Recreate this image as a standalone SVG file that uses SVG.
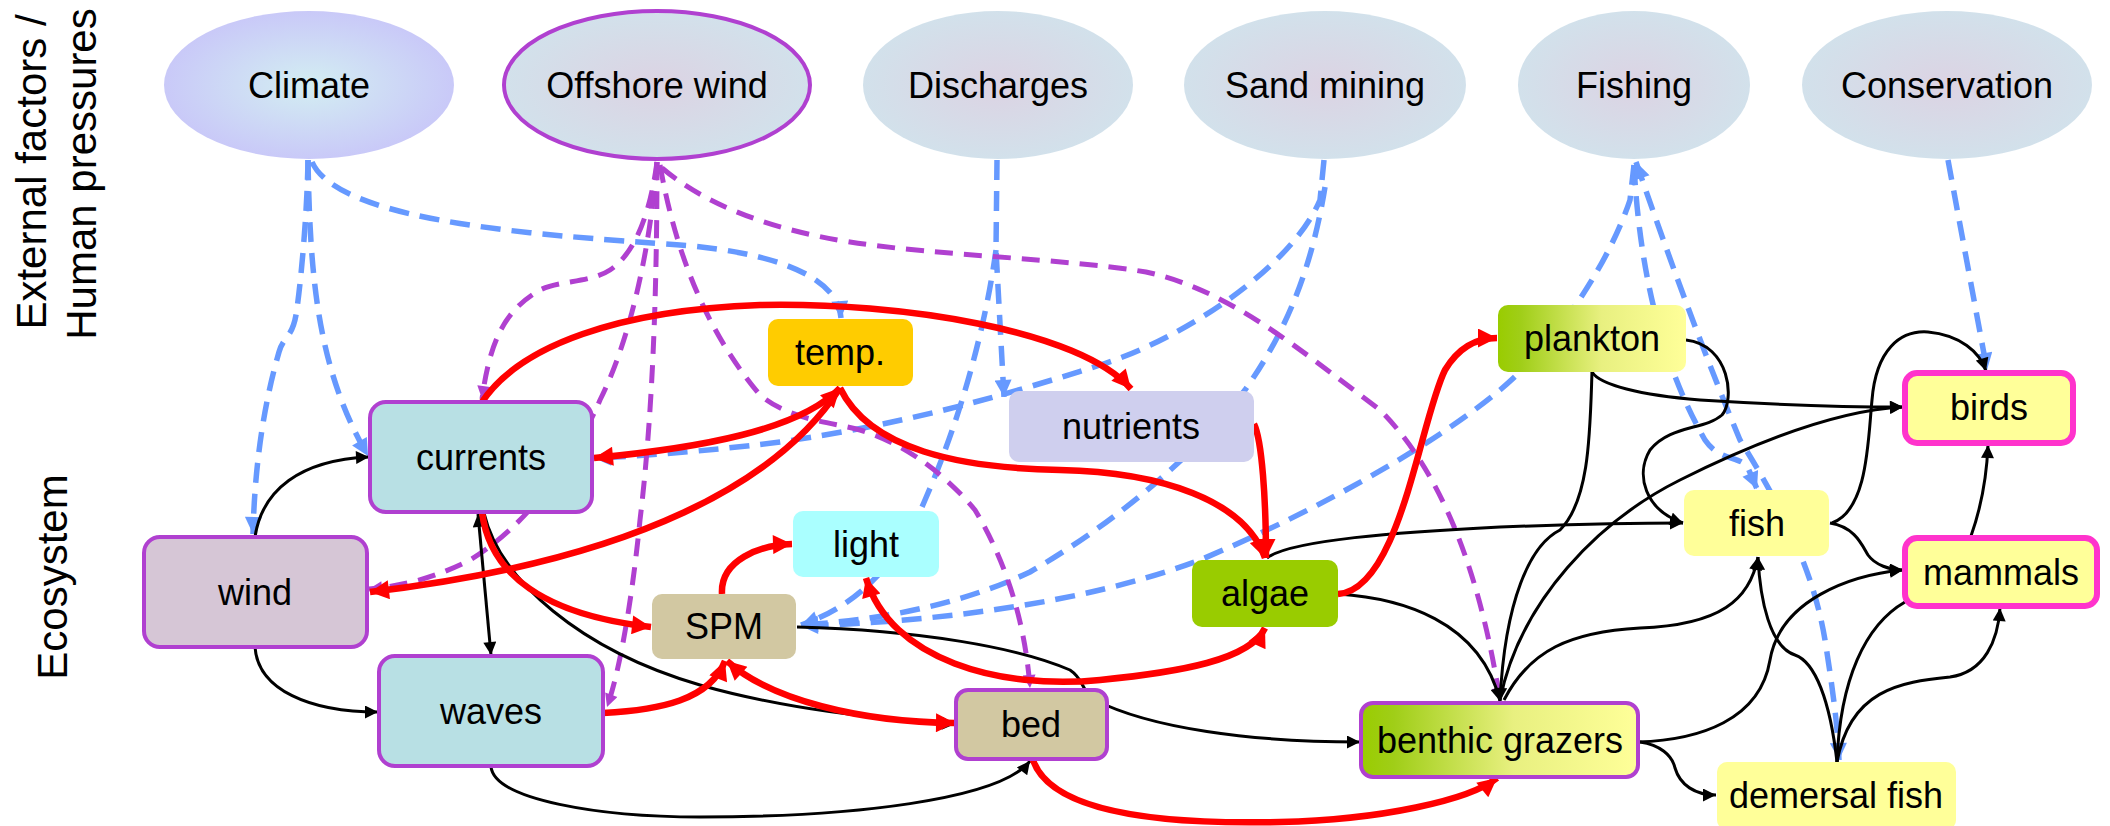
<svg xmlns="http://www.w3.org/2000/svg" width="2110" height="826" viewBox="0 0 2110 826">
<style>
.t{font-family:"Liberation Sans",Arial,sans-serif;font-size:36px;text-anchor:middle;fill:#000}
.h{font-family:"Liberation Sans",Arial,sans-serif;font-size:42px;text-anchor:middle;fill:#000}
.bd{fill:none;stroke:#6699ff;stroke-width:5.5;stroke-dasharray:20 11;marker-end:url(#ab)}
.pd{fill:none;stroke:#b040d0;stroke-width:5;stroke-dasharray:18 11;marker-end:url(#ap)}
.bk{fill:none;stroke:#000;stroke-width:3;marker-end:url(#ak)}
.rd{fill:none;stroke:#ff0000;stroke-width:6.5;marker-end:url(#ar)}
.pb{stroke:#b040d0;stroke-width:4}
.mb{stroke:#ff33cc;stroke-width:6}
</style>
<defs>
<marker id="ak" viewBox="0 0 10 10" refX="10" refY="5" markerWidth="15" markerHeight="13" markerUnits="userSpaceOnUse" orient="auto-start-reverse"><path d="M0,0 L10,5 L0,10 z" fill="#000"/></marker>
<marker id="ar" viewBox="0 0 10 10" refX="10" refY="5" markerWidth="22" markerHeight="19" markerUnits="userSpaceOnUse" orient="auto-start-reverse"><path d="M0,0 L10,5 L0,10 z" fill="#ff0000"/></marker>
<marker id="ab" viewBox="0 0 10 10" refX="10" refY="5" markerWidth="18" markerHeight="17" markerUnits="userSpaceOnUse" orient="auto-start-reverse"><path d="M0,0 L10,5 L0,10 z" fill="#6699ff"/></marker>
<marker id="ap" viewBox="0 0 10 10" refX="10" refY="5" markerWidth="15" markerHeight="13" markerUnits="userSpaceOnUse" orient="auto-start-reverse"><path d="M0,0 L10,5 L0,10 z" fill="#b040d0"/></marker>
<radialGradient id="gClim" cx="50%" cy="50%" r="50%"><stop offset="0" stop-color="#d3eef2"/><stop offset="1" stop-color="#c9c9f8"/></radialGradient>
<radialGradient id="gExt" cx="50%" cy="50%" r="50%"><stop offset="0" stop-color="#dcd3e3"/><stop offset="1" stop-color="#d2e1eb"/></radialGradient>
<linearGradient id="gGreen" x1="0" y1="0" x2="1" y2="0"><stop offset="0" stop-color="#99cc00"/><stop offset="0.12" stop-color="#a0ce18"/><stop offset="0.55" stop-color="#e8f080"/><stop offset="1" stop-color="#ffff99"/></linearGradient>
</defs>

<rect width="2110" height="826" fill="#ffffff"/>

<g id="labels">
<text class="h" transform="translate(46,172) rotate(-90)">External factors /</text>
<text class="h" transform="translate(96,174) rotate(-90)">Human pressures</text>
<text class="h" transform="translate(67,577) rotate(-90)">Ecosystem</text>
</g>

<g id="connectors">
<!-- blue dashed -->
<path class="bd" d="M308,160 C307,220 300,290 296,315 C292,338 283,337 279,352 C268,390 255,450 253,534"/>
<path class="bd" d="M308,160 C310,280 318,370 368,456"/>
<path class="bd" d="M312,162 C340,225 560,236 680,245 C770,252 838,275 841,318"/>
<path class="bd" d="M997,160 L996,250 L1004,397"/>
<path class="bd" d="M996,250 C985,330 960,420 925,500 C900,560 860,605 801,625"/>
<path class="bd" d="M1324,160 L1320,200 C1290,270 1180,340 1100,365 C1000,397 900,425 780,442 C700,452 640,456 594,458"/>
<path class="bd" d="M1325,187 C1310,280 1280,340 1245,390 C1200,450 1120,520 1030,572 C960,605 880,620 801,625"/>
<path class="bd" d="M1634,165 L1630,200 C1610,260 1560,340 1500,390 C1440,440 1330,505 1200,560 C1080,605 930,622 801,626"/>
<path class="bd" d="M1634,165 C1640,280 1665,370 1705,440 C1720,462 1740,455 1748,468 L1757,489"/>
<path class="bd" style="marker-start:url(#ab)" d="M1636,162 C1680,290 1715,380 1740,440 C1790,520 1815,580 1825,640 C1833,690 1838,730 1839,760"/>
<path class="bd" d="M1948,160 L1987,370"/>
<!-- purple dashed -->
<path class="pd" d="M657,162 C652,200 640,250 610,270 C590,283 560,280 540,290 C505,310 490,340 482,399"/>
<path class="pd" d="M657,162 C650,250 630,340 600,400 C570,470 520,530 470,560 C430,580 400,586 369,589"/>
<path class="pd" d="M657,162 C657,300 652,420 640,520 C632,600 620,670 607,707"/>
<path class="pd" d="M660,165 C675,250 705,330 760,395 C790,420 830,422 860,430 C910,445 950,480 975,510 C1005,560 1025,620 1030,688"/>
<path class="pd" d="M662,168 C700,200 760,228 850,242 C940,256 1060,258 1146,272 C1230,290 1300,350 1380,410 C1440,470 1480,570 1500,701"/>
<!-- black -->
<path class="bk" d="M255,537 C262,490 300,460 369,457"/>
<path class="bk" d="M255,647 C258,690 310,712 378,712"/>
<path class="bk" style="marker-start:url(#ak)" d="M478,514 L491,655"/>
<path class="bk" d="M484,513 C500,580 580,650 700,685 C780,708 880,720 955,724"/>
<path class="bk" d="M491,767 C495,800 600,817 700,817 C850,817 1000,800 1030,761"/>
<path class="bk" d="M797,627 C920,630 1020,648 1070,670 C1085,680 1080,690 1095,700 C1150,728 1250,742 1360,742"/>
<path class="bk" d="M1267,558 C1290,540 1400,532 1500,527 C1580,524 1640,523 1683,523"/>
<path class="bk" d="M1338,594 C1400,598 1480,620 1500,701"/>
<path class="bk" d="M1592,372 C1590,430 1590,500 1560,530 C1530,545 1505,600 1500,701"/>
<path class="bk" d="M1500,700 C1520,600 1600,520 1680,480 C1760,440 1840,410 1903,407"/>
<path class="bk" d="M1592,372 C1600,385 1640,395 1700,400 C1780,405 1850,407 1903,407"/>
<path class="bk" d="M1686,340 C1730,345 1735,400 1722,415 C1705,430 1670,425 1650,450 C1635,475 1645,510 1683,523"/>
<path class="bk" d="M1504,700 C1530,650 1570,632 1640,628 C1720,625 1750,600 1758,557"/>
<path class="bk" d="M1638,742 C1700,740 1760,720 1770,660 C1780,600 1850,575 1903,570"/>
<path class="bk" d="M1640,742 C1660,745 1672,755 1675,768 C1680,785 1695,795 1716,795"/>
<path class="bk" d="M1830,523 C1855,527 1862,545 1868,555 C1875,565 1890,570 1903,570"/>
<path class="bk" d="M1832,523 C1868,510 1868,440 1872,400 C1876,350 1900,330 1928,332 C1960,335 1980,352 1986,371"/>
<path class="bk" d="M1971,536 C1982,505 1987,470 1988,445"/>
<path class="bk" d="M1837,762 C1830,700 1815,662 1795,655 C1770,647 1760,600 1758,557"/>
<path class="bk" d="M1837,762 C1850,690 1900,682 1950,677 C1985,672 1998,640 2000,608"/>
<path fill="none" stroke="#000" stroke-width="3" d="M1837,762 C1840,680 1865,625 1905,602"/>
<!-- red -->
<path class="rd" d="M482,402 C520,345 620,310 760,305 C900,302 1080,330 1131,389"/>
<path class="rd" style="marker-start:url(#ar)" d="M840,388 C800,430 700,448 594,458"/>
<path class="rd" d="M840,388 C780,480 640,560 370,592"/>
<path class="rd" d="M840,388 C870,450 960,468 1060,470 C1160,472 1245,500 1265,558"/>
<path class="rd" d="M1254,424 C1262,440 1266,500 1266,558"/>
<path class="rd" d="M1338,594 C1400,590 1420,420 1445,370 C1460,345 1480,338 1497,338"/>
<path class="rd" d="M482,512 C490,575 545,615 651,627"/>
<path class="rd" d="M603,713 C660,710 710,700 725,661"/>
<path class="rd" style="marker-start:url(#ar)" d="M727,661 C770,700 860,722 955,723"/>
<path class="rd" d="M722,594 C720,560 760,545 792,544"/>
<path class="rd" style="marker-start:url(#ar)" d="M866,578 C890,660 1000,690 1100,680 C1180,672 1250,660 1265,628"/>
<path class="rd" d="M1033,760 C1050,810 1150,825 1280,822 C1380,820 1470,800 1497,778"/>
</g>

<g id="n-climate"><ellipse cx="309" cy="85" rx="145" ry="74" fill="url(#gClim)"/><text class="t" x="309" y="98">Climate</text></g>
<g id="n-offshore"><ellipse cx="657" cy="85" rx="153" ry="74" fill="url(#gExt)" stroke="#b040d0" stroke-width="4"/><text class="t" x="657" y="98">Offshore wind</text></g>
<g id="n-discharges"><ellipse cx="998" cy="85" rx="135" ry="74" fill="url(#gExt)"/><text class="t" x="998" y="98">Discharges</text></g>
<g id="n-sand"><ellipse cx="1325" cy="85" rx="141" ry="74" fill="url(#gExt)"/><text class="t" x="1325" y="98">Sand mining</text></g>
<g id="n-fishing"><ellipse cx="1634" cy="85" rx="116" ry="74" fill="url(#gExt)"/><text class="t" x="1634" y="98">Fishing</text></g>
<g id="n-conservation"><ellipse cx="1947" cy="85" rx="145" ry="74" fill="url(#gExt)"/><text class="t" x="1947" y="98">Conservation</text></g>

<g id="n-currents"><rect x="370" y="402" width="222" height="110" rx="16" fill="#b8e0e4" class="pb"/><text class="t" x="481" y="470">currents</text></g>
<g id="n-wind"><rect x="144" y="537" width="223" height="110" rx="16" fill="#d6c6d6" class="pb"/><text class="t" x="255" y="605">wind</text></g>
<g id="n-waves"><rect x="379" y="656" width="224" height="110" rx="16" fill="#b8e0e4" class="pb"/><text class="t" x="491" y="724">waves</text></g>
<g id="n-temp"><rect x="768" y="319" width="145" height="67" rx="10" fill="#ffcc00"/><text class="t" x="840" y="365">temp.</text></g>
<g id="n-nutrients"><rect x="1009" y="391" width="245" height="71" rx="10" fill="#cfcfee"/><text class="t" x="1131" y="439">nutrients</text></g>
<g id="n-light"><rect x="793" y="511" width="146" height="66" rx="10" fill="#aaffff"/><text class="t" x="866" y="557">light</text></g>
<g id="n-spm"><rect x="652" y="594" width="144" height="65" rx="10" fill="#d2c8a2"/><text class="t" x="724" y="639">SPM</text></g>
<g id="n-algae"><rect x="1192" y="560" width="146" height="67" rx="10" fill="#99cc00"/><text class="t" x="1265" y="606">algae</text></g>
<g id="n-bed"><rect x="956" y="690" width="151" height="69" rx="12" fill="#d2c8a2" class="pb"/><text class="t" x="1031" y="737">bed</text></g>
<g id="n-plankton"><rect x="1498" y="305" width="188" height="67" rx="10" fill="url(#gGreen)"/><text class="t" x="1592" y="351">plankton</text></g>
<g id="n-benthic"><rect x="1361" y="703" width="277" height="74" rx="12" fill="url(#gGreen)" class="pb"/><text class="t" x="1500" y="753">benthic grazers</text></g>
<g id="n-fish"><rect x="1684" y="490" width="145" height="66" rx="10" fill="#ffff99"/><text class="t" x="1757" y="536">fish</text></g>
<g id="n-birds"><rect x="1905" y="373" width="168" height="70" rx="12" fill="#ffff99" class="mb"/><text class="t" x="1989" y="420">birds</text></g>
<g id="n-mammals"><rect x="1905" y="538" width="192" height="68" rx="12" fill="#ffff99" class="mb"/><text class="t" x="2001" y="585">mammals</text></g>
<g id="n-demersal"><rect x="1717" y="762" width="239" height="68" rx="10" fill="#ffff99"/><text class="t" x="1836" y="808">demersal fish</text></g>
</svg>
